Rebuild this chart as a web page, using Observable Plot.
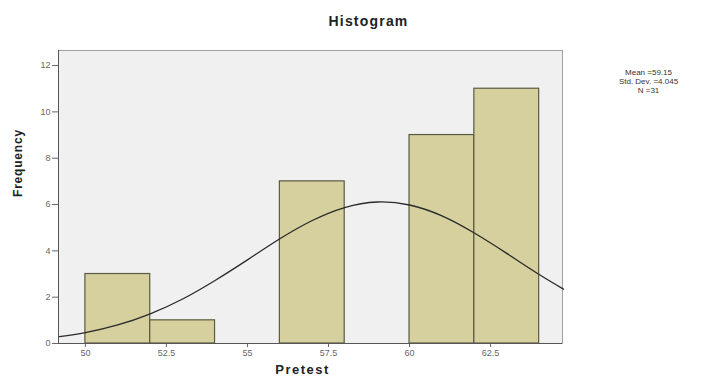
<!DOCTYPE html>
<html>
<head>
<meta charset="utf-8">
<script src="https://cdn.jsdelivr.net/npm/d3@7"></script>
<script src="https://cdn.jsdelivr.net/npm/@observablehq/plot@0.6"></script>
<style>
  html, body { margin: 0; padding: 0; background: #fff; }
  svg { display: block; }
</style>
</head>
<body>
<div id="chart"></div>
<script>
// Histogram bins (Pretest), width 2
const binStart = [50, 52, 54, 56, 58, 60, 62];
const binEnd   = [52, 54, 56, 58, 60, 62, 64];
const counts   = [3, 1, 0, 7, 0, 9, 11];

// Normal curve
const curveX = [49.2, 50, 51, 52, 53, 54, 55, 56, 57, 58, 59, 60, 61, 62, 63, 64, 64.75];
const curveY = [0.30, 0.47, 0.80, 1.28, 1.92, 2.72, 3.61, 4.52, 5.31, 5.87, 6.11, 5.98, 5.51, 4.77, 3.89, 2.98, 2.35];

const xTicks = [50, 52.5, 55, 57.5, 60, 62.5];
const yTicks = [0, 2, 4, 6, 8, 10, 12];

const titleText = "Histogram";
const xLabel = "Pretest";
const yLabel = "Frequency";
const statsLines = ["Mean =59.15", "Std. Dev. =4.045", "N =31"];

const bars = binStart.map((s, i) => ({x1: s, x2: binEnd[i], count: counts[i]})).filter(d => d.count > 0);
const curve = curveX.map((x, i) => ({x, y: curveY[i]}));

const font = "Liberation Sans, Arial, sans-serif";

const statMarks = statsLines.map((s, i) =>
  Plot.text([s], {frameAnchor: "top-right", dx: 86, dy: 19 + i * 9, fontSize: 8, fill: "#333", textAnchor: "middle", text: d => d})
);

const plot = Plot.plot({
  width: 701,
  height: 380,
  marginLeft: 58,
  marginRight: 139,
  marginTop: 50,
  marginBottom: 37,
  style: {fontFamily: font, background: "#fff"},
  x: {domain: [49.17, 64.72], ticks: xTicks, tickFormat: d => String(d)},
  y: {domain: [0, 12.65], ticks: yTicks},
  marks: [
    Plot.frame({fill: "#f0f0f0", stroke: "#a0a0a0"}),
    Plot.rectY(bars, {x1: "x1", x2: "x2", y: "count", fill: "#d5d09d", stroke: "#5b5a42", strokeWidth: 1.2}),
    Plot.line(curve, {x: "x", y: "y", curve: "natural", stroke: "#2a2a2a", strokeWidth: 1.3}),
    Plot.axisX({ticks: xTicks, tickFormat: d => String(d), tickSize: 4, tickPadding: 2, fontSize: 9, color: "#666", label: null}),
    Plot.axisY({ticks: yTicks, tickSize: 6, tickPadding: 2, fontSize: 9, color: "#666", label: null}),
    Plot.ruleX([49.17], {stroke: "#555"}),
    Plot.ruleY([0], {stroke: "#555"}),
    Plot.text([titleText], {frameAnchor: "top", dx: 58, dy: -34, fontSize: 14, fontWeight: "bold", fill: "#222", text: d => d}),
    Plot.text([xLabel], {frameAnchor: "bottom", dx: -8, dy: 30, fontSize: 13, fontWeight: "bold", fill: "#222", text: d => d}),
    Plot.text([yLabel], {frameAnchor: "left", dx: -40, rotate: -90, fontSize: 12, fontWeight: "bold", fill: "#222", text: d => d}),
    ...statMarks
  ]
});
plot.querySelectorAll("text").forEach(t => {
  const s = t.textContent;
  if (s === titleText) t.setAttribute("letter-spacing", "1.2");
  if (s === xLabel) t.setAttribute("letter-spacing", "1.5");
  if (s === yLabel) t.setAttribute("letter-spacing", "0.8");
});
document.getElementById("chart").appendChild(plot);
</script>
</body>
</html>
